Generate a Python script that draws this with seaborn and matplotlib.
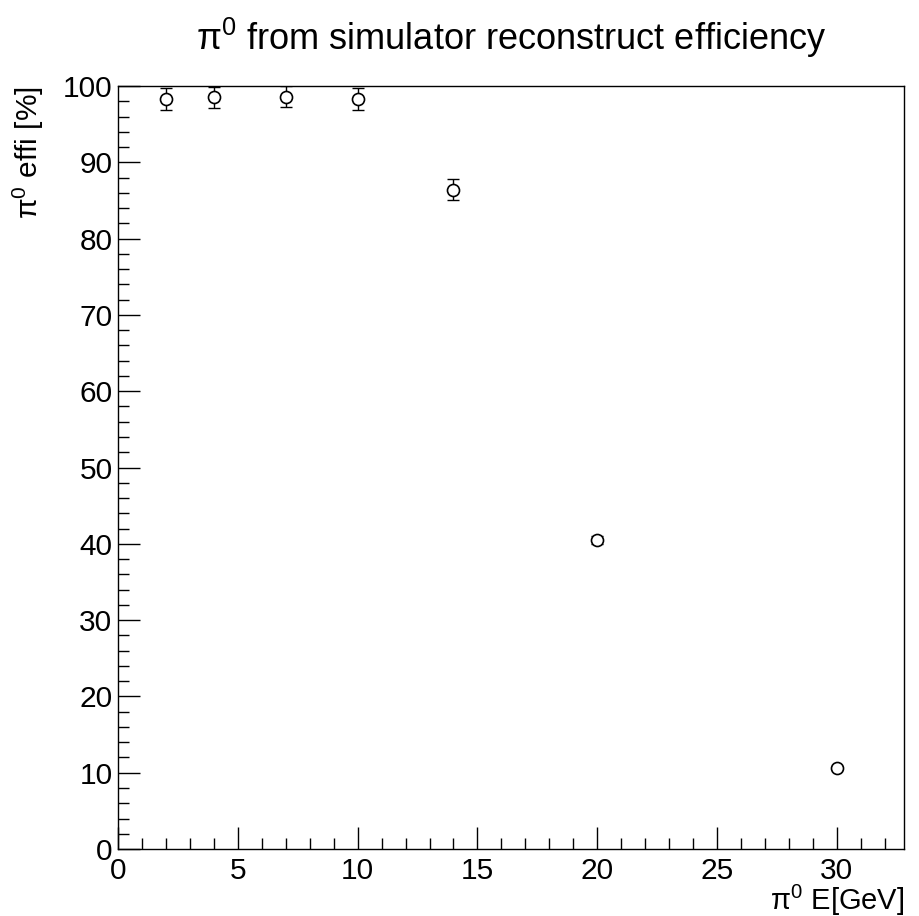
import numpy as np
import pandas as pd
import matplotlib
matplotlib.use("Agg")
import matplotlib.pyplot as plt
import seaborn as sns
from matplotlib.ticker import MultipleLocator

energy = [2, 4, 7, 10, 14, 20, 30]
efficiency = [98.3, 98.5, 98.6, 98.3, 86.4, 40.5, 10.6]
error = [1.4, 1.4, 1.4, 1.4, 1.4, 0.5, 0.3]

sns.set_theme(style="white")
plt.rcParams['font.family'] = ['Liberation Sans', 'DejaVu Sans']
plt.rcParams['mathtext.fontset'] = 'custom'
plt.rcParams['mathtext.rm'] = 'Liberation Sans'
plt.rcParams['mathtext.it'] = 'Liberation Sans'
plt.rcParams['text.color'] = 'black'
plt.rcParams['axes.labelcolor'] = 'black'
plt.rcParams['xtick.color'] = 'black'
plt.rcParams['ytick.color'] = 'black'

df = pd.DataFrame({"E": energy, "eff": efficiency, "err": error})

fig = plt.figure(figsize=(9.19, 9.16), dpi=100)
ax = fig.add_axes([0.1284, 0.0731, 0.9837 - 0.1284, 0.9061 - 0.0731])

ax.errorbar(df["E"], df["eff"], yerr=df["err"], fmt='none', ecolor='black',
            elinewidth=1.0, capsize=4, capthick=1.0, zorder=2)
sns.scatterplot(data=df, x="E", y="eff", ax=ax, marker='o', s=75,
                facecolor='white', edgecolor='black', linewidth=1.2, zorder=3)

ax.set_xlim(0, 32.8)
ax.set_ylim(0, 100)
ax.xaxis.set_major_locator(MultipleLocator(5))
ax.xaxis.set_minor_locator(MultipleLocator(1))
ax.yaxis.set_major_locator(MultipleLocator(10))
ax.yaxis.set_minor_locator(MultipleLocator(2))
ax.tick_params(axis='both', which='both', direction='in', labelsize=21.5,
               color='black', width=1.0, bottom=True, left=True,
               top=False, right=False, labelcolor='black')
ax.tick_params(axis='both', which='major', length=16)
ax.tick_params(axis='both', which='minor', length=8)
ax.tick_params(axis='x', pad=6)
ax.tick_params(axis='y', pad=4)
for s in ax.spines.values():
    s.set_color('black')
    s.set_linewidth(1.0)

ax.set_xlabel("π$^{0}$ E[GeV]", fontsize=21, loc='right', labelpad=-2)
ax.set_ylabel("π$^{0}$ effi [%]", fontsize=21.5, loc='top', labelpad=12)
ax.set_title("π$^{0}$ from simulator reconstruct efficiency", fontsize=26, pad=26)

fig.savefig("out.png", dpi=100, facecolor='white')
